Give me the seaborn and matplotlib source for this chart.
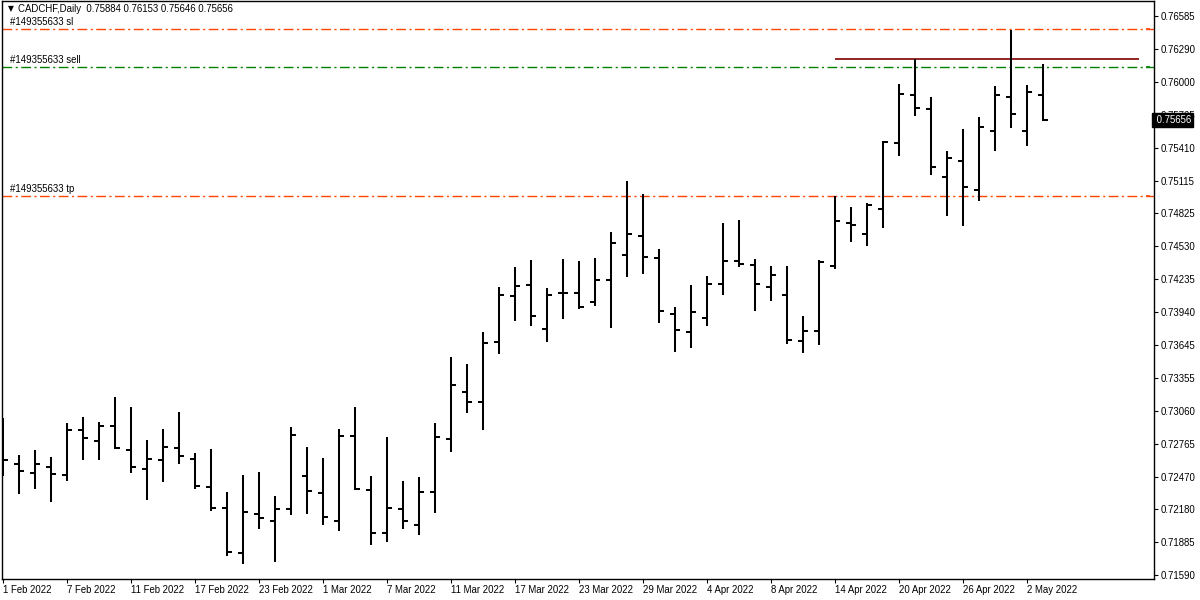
import matplotlib
matplotlib.use("Agg")
import matplotlib.pyplot as plt
import matplotlib.transforms as mtransforms
import seaborn as sns
import numpy as np

# ---------------- data ----------------
symbol_title = "CADCHF,Daily"
header_values = ["0.75884", "0.76153", "0.75646", "0.75656"]

opens = [0.72676, 0.72587, 0.72501, 0.72563, 0.72483, 0.72893, 0.72795, 0.72928, 0.72706, 0.72545,
         0.72625, 0.72732, 0.72634, 0.72376, 0.72193, 0.71788, 0.72136, 0.72080, 0.72180, 0.72474,
         0.72323, 0.72080, 0.72839, 0.72349, 0.71967, 0.72180, 0.72038, 0.72332, 0.72812, 0.73231,
         0.73142, 0.73676, 0.74086, 0.74184, 0.73792, 0.74112, 0.74112, 0.74032, 0.74232, 0.74451,
         0.74617, 0.74421, 0.73923, 0.73765, 0.73890, 0.74193, 0.74397, 0.74362, 0.74166, 0.74095,
         0.73685, 0.73774, 0.74353, 0.74736, 0.74635, 0.74860, 0.75448, 0.75884, 0.75751, 0.75145,
         0.75294, 0.75030, 0.75555, 0.75866, 0.75555, 0.75884]

highs = [0.72997, 0.72667, 0.72706, 0.72649, 0.72952, 0.73006, 0.72961, 0.73186, 0.73095, 0.72801,
         0.72899, 0.73050, 0.72685, 0.72721, 0.72335, 0.72489, 0.72516, 0.72302, 0.72917, 0.72739,
         0.72641, 0.72899, 0.73095, 0.72480, 0.72828, 0.72436, 0.72471, 0.72952, 0.73537, 0.73478,
         0.73760, 0.74169, 0.74347, 0.74404, 0.74160, 0.74419, 0.74395, 0.74428, 0.74653, 0.75116,
         0.75000, 0.74508, 0.73985, 0.74187, 0.74267, 0.74733, 0.74760, 0.74412, 0.74350, 0.74350,
         0.73908, 0.74404, 0.74976, 0.74882, 0.74920, 0.75466, 0.75980, 0.76199, 0.75861, 0.75383,
         0.75579, 0.75686, 0.75962, 0.76460, 0.75971, 0.76153]

lows = [0.72480, 0.72314, 0.72358, 0.72243, 0.72438, 0.72625, 0.72625, 0.72736, 0.72501, 0.72260,
        0.72421, 0.72581, 0.72358, 0.72162, 0.71762, 0.71691, 0.72002, 0.71708, 0.72127, 0.72136,
        0.72038, 0.71984, 0.72358, 0.71860, 0.71886, 0.72002, 0.71949, 0.72145, 0.72691, 0.73039,
        0.72887, 0.73564, 0.73863, 0.73813, 0.73671, 0.73881, 0.73965, 0.73997, 0.73801, 0.74255,
        0.74282, 0.73845, 0.73587, 0.73623, 0.73819, 0.74095, 0.74344, 0.73952, 0.74041, 0.73658,
        0.73578, 0.73649, 0.74330, 0.74566, 0.74531, 0.74691, 0.75332, 0.75688, 0.75163, 0.74798,
        0.74709, 0.74932, 0.75377, 0.75582, 0.75421, 0.75646]

closes = [0.72620, 0.72522, 0.72581, 0.72498, 0.72893, 0.72821, 0.72928, 0.72730, 0.72563, 0.72634,
          0.72741, 0.72661, 0.72391, 0.72193, 0.71804, 0.72154, 0.72100, 0.72180, 0.72848, 0.72341,
          0.72113, 0.72839, 0.72358, 0.71967, 0.72193, 0.72073, 0.72332, 0.72830, 0.73291, 0.73142,
          0.73667, 0.74095, 0.74175, 0.73908, 0.74095, 0.74112, 0.73988, 0.74232, 0.74558, 0.74638,
          0.74430, 0.73949, 0.73783, 0.73941, 0.74190, 0.74397, 0.74368, 0.74193, 0.74273, 0.73694,
          0.73774, 0.74388, 0.74753, 0.74718, 0.74896, 0.75463, 0.75893, 0.75760, 0.75238, 0.75314,
          0.75056, 0.75590, 0.75884, 0.75712, 0.75906, 0.75656]

date_labels = ["1 Feb 2022", "7 Feb 2022", "11 Feb 2022", "17 Feb 2022", "23 Feb 2022",
               "1 Mar 2022", "7 Mar 2022", "11 Mar 2022", "17 Mar 2022", "23 Mar 2022",
               "29 Mar 2022", "4 Apr 2022", "8 Apr 2022", "14 Apr 2022", "20 Apr 2022",
               "26 Apr 2022", "2 May 2022"]
date_label_bars = [0, 4, 8, 12, 16, 20, 24, 28, 32, 36, 40, 44, 48, 52, 56, 60, 64]

price_ticks = [0.76585, 0.76290, 0.76000, 0.75705, 0.75410, 0.75115, 0.74825, 0.74530, 0.74235,
               0.73940, 0.73645, 0.73355, 0.73060, 0.72765, 0.72470, 0.72180, 0.71885, 0.71590]

order_labels = ["#149355633 sl", "#149355633 sell", "#149355633 tp"]
order_levels = [0.76466, 0.76127, 0.74975]
order_colors = ["#FF4500", "#008000", "#FF4500"]

hline_level = 0.76199
hline_start_bar = 52
hline_end_bar = 71.0

last_price = 0.75656

# ---------------- style ----------------
sns.set_theme(style="white")
plt.rcParams["font.family"] = ["Liberation Sans", "DejaVu Sans"]
plt.rcParams["axes.edgecolor"] = "black"
plt.rcParams["axes.linewidth"] = 1.0

FS = 6.9

fig = plt.figure(figsize=(12, 6), dpi=100)
fig.patch.set_facecolor("white")
W, H = 1200, 600
ax = fig.add_axes([2 / W, (H - 579) / H, 1152 / W, 578 / H])
ax.set_facecolor("white")

n = len(opens)
xs = np.arange(n)

# y mapping: 0.76585 at y=16px, 0.71590 at y=575.5px
ppu = (575.5 - 16) / (0.76585 - 0.71590)
ytop = 0.76585 + (16 - 1) / ppu
ybot = 0.71590 - (579 - 575.5) / ppu
ax.set_ylim(ybot, ytop)
ax.set_xlim(-1 / 16, 1151 / 16)

# ---------------- OHLC bars ----------------
bar_lw = 1.45
tick_len = 0.29
ax.vlines(xs, lows, highs, color="black", linewidth=bar_lw, zorder=3)
ax.hlines(opens, xs - tick_len, xs + 0.04, color="black", linewidth=bar_lw, zorder=3)
ax.hlines(closes, xs - 0.04, xs + tick_len, color="black", linewidth=bar_lw, zorder=3)

# ---------------- order levels ----------------
for lbl, lvl, col in zip(order_labels, order_levels, order_colors):
    ax.axhline(lvl, color=col, linewidth=1.0, dashes=(7, 2.5, 1.5, 2.5), zorder=2)
    ax.annotate(lbl, xy=(7 / 16, lvl), xytext=(0, 2), textcoords="offset points",
                fontsize=FS, color="black", ha="left", va="bottom", zorder=4)
    ax.hlines(lvl, (1146 - 3) / 16, (1150 - 3) / 16, color=col, linewidth=1.2, zorder=4)

ax.hlines(hline_level, hline_start_bar, hline_end_bar, color="#800000", linewidth=1.2, zorder=2)

# ---------------- axes ----------------
ax.yaxis.tick_right()
ax.set_yticks(price_ticks)
ax.set_yticklabels([f"{v:.5f}" for v in price_ticks])
ax.tick_params(axis="y", which="major", right=True, left=False, length=3, width=0.8,
               direction="out", labelsize=FS, pad=2, colors="black")
ax.set_xticks(date_label_bars)
ax.set_xticklabels(date_labels)
ax.tick_params(axis="x", which="major", bottom=True, length=3, width=0.8,
               direction="out", labelsize=FS, pad=1.5, colors="black")
for t in ax.get_xticklabels():
    t.set_ha("left")
ax.grid(False)
for s in ax.spines.values():
    s.set_visible(True)
    s.set_color("black")
    s.set_linewidth(1.0)

# last price marker
trans = mtransforms.blended_transform_factory(ax.transAxes, ax.transData)
ax.text(1.0, last_price, " " + f"{last_price:.5f}", transform=trans, ha="left", va="center",
        fontsize=FS, color="white", zorder=10, clip_on=False,
        bbox=dict(boxstyle="square,pad=0.2", facecolor="black", edgecolor="black"))

# header
fig.text(8 / W, 1 - 9 / H, "\u25BC", fontsize=5.5, color="black", ha="left", va="center",
         family=["DejaVu Sans"])
fig.text(18 / W, 1 - 9.5 / H, symbol_title + "  " + " ".join(header_values),
         fontsize=FS, color="black", ha="left", va="center")

fig.savefig("out.png", dpi=100, facecolor="white")
